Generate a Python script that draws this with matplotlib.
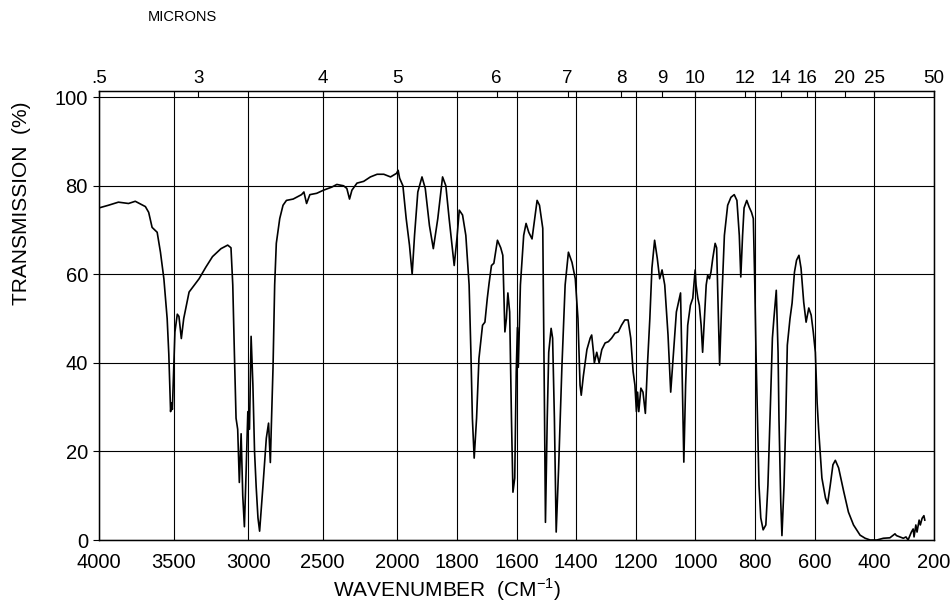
"""
    IR spectrum (transmission vs wavenumber), redrawn from a scanned chart
"""

import numpy as np
import matplotlib
matplotlib.use('Agg')
import matplotlib.pyplot as plt

plt.rcParams['font.family'] = ['Liberation Sans', 'DejaVu Sans']
plt.rcParams['mathtext.fontset'] = 'custom'
plt.rcParams['mathtext.rm'] = 'Liberation Sans'

#--- spectrum (cm-1, %T)
wavenumber = [
    4000, 3937, 3870, 3802, 3757, 3689, 3667, 3644, 3610, 3588, 3565, 3543, 3532, 3520, 3514, 3508,
    3500, 3491, 3475, 3464, 3448, 3432, 3396, 3329, 3284, 3239, 3182, 3137, 3115, 3103, 3092, 3081,
    3070, 3059, 3047, 3036, 3025, 3013, 3002, 2991, 2980, 2968, 2957, 2946, 2934, 2923, 2901, 2878,
    2863, 2851, 2845, 2833, 2822, 2811, 2788, 2766, 2743, 2698, 2642, 2626, 2608, 2586, 2540, 2495,
    2439, 2405, 2360, 2338, 2320, 2304, 2270, 2225, 2180, 2135, 2090, 2045, 2005, 1997, 1992, 1981,
    1970, 1959, 1950, 1942, 1931, 1917, 1906, 1892, 1879, 1864, 1848, 1837, 1826, 1809, 1800, 1792,
    1781, 1770, 1759, 1753, 1748, 1742, 1734, 1726, 1714, 1706, 1698, 1692, 1684, 1676, 1664, 1653,
    1646, 1639, 1634, 1629, 1623, 1617, 1612, 1606, 1601, 1597, 1594, 1587, 1576, 1568, 1559, 1548,
    1539, 1531, 1523, 1512, 1509, 1506, 1503, 1497, 1492, 1484, 1479, 1473, 1467, 1459, 1448, 1437,
    1426, 1414, 1403, 1394, 1387, 1383, 1376, 1364, 1353, 1348, 1342, 1339, 1331, 1323, 1314, 1303,
    1292, 1281, 1270, 1259, 1248, 1237, 1226, 1217, 1209, 1203, 1198, 1194, 1190, 1183, 1176, 1168,
    1161, 1153, 1146, 1137, 1128, 1120, 1112, 1103, 1092, 1083, 1076, 1064, 1050, 1046, 1039, 1033,
    1026, 1017, 1009, 1001, 998, 992, 987, 981, 976, 970, 964, 959, 953, 948, 942, 934,
    929, 923, 919, 912, 903, 892, 881, 870, 861, 853, 848, 842, 837, 828, 820, 812,
    806, 801, 797, 792, 787, 781, 773, 764, 757, 750, 742, 737, 729, 723, 720, 714,
    710, 703, 697, 692, 683, 676, 668, 661, 653, 646, 637, 629, 620, 612, 605, 598,
    592, 587, 576, 564, 557, 548, 539, 531, 520, 503, 487, 470, 448, 431, 414, 392,
    370, 348, 331, 326, 314, 303, 294, 287, 276, 270, 267, 261, 257, 250, 246, 240,
    234, 231,
]
transmission = [
    75.0, 75.6, 76.3, 76.0, 76.5, 75.3, 74.0, 70.6, 69.5, 65.0, 59.0, 50.0, 42.0, 29.0, 31.0, 29.5,
    38.0, 47.0, 51.0, 50.5, 45.5, 50.0, 56.0, 59.0, 61.6, 64.0, 65.8, 66.6, 66.0, 57.6, 42.0, 27.5,
    25.0, 13.0, 24.0, 10.0, 3.0, 16.0, 29.0, 25.0, 46.0, 35.0, 20.0, 12.0, 5.0, 2.0, 12.0, 23.0,
    26.4, 17.5, 25.0, 39.0, 57.6, 67.0, 72.6, 75.6, 76.7, 77.0, 78.0, 78.6, 76.0, 78.0, 78.3, 79.0,
    79.7, 80.3, 80.0, 79.4, 77.0, 79.0, 80.6, 81.0, 82.0, 82.6, 82.6, 82.0, 82.8, 83.5, 81.7, 80.0,
    72.6, 66.6, 60.0, 68.8, 78.6, 82.0, 79.4, 71.0, 65.8, 72.6, 82.0, 80.0, 72.6, 62.0, 68.0, 74.5,
    73.4, 68.8, 57.6, 42.4, 27.5, 18.5, 27.5, 41.0, 48.5, 49.2, 54.6, 58.0, 62.0, 62.5, 67.7, 66.0,
    64.3, 47.0, 50.0, 55.8, 51.5, 27.5, 10.8, 14.0, 38.0, 48.0, 39.0, 57.6, 68.8, 71.5, 69.5, 68.0,
    72.6, 76.7, 75.6, 70.4, 50.0, 27.5, 4.0, 27.5, 42.4, 47.8, 45.6, 27.5, 1.8, 16.0, 38.8, 57.6,
    65.0, 62.7, 59.0, 50.0, 35.0, 32.7, 37.0, 43.0, 45.6, 46.3, 42.4, 40.0, 42.4, 40.0, 43.0, 44.5,
    44.8, 45.6, 46.7, 47.0, 48.5, 49.7, 49.7, 45.6, 38.0, 35.0, 29.0, 33.4, 29.0, 34.3, 33.4, 28.6,
    39.5, 50.0, 61.4, 67.7, 63.6, 59.0, 61.0, 57.6, 46.3, 33.4, 40.0, 51.5, 55.8, 42.4, 17.6, 35.0,
    48.5, 53.0, 54.6, 61.0, 57.6, 54.6, 53.0, 48.5, 42.4, 50.0, 57.6, 59.8, 59.0, 60.5, 63.6, 67.0,
    66.0, 50.0, 39.5, 53.7, 68.8, 75.6, 77.4, 78.0, 76.7, 68.8, 59.4, 68.8, 75.0, 76.7, 75.2, 74.0,
    72.6, 57.6, 42.4, 27.5, 12.4, 5.0, 2.3, 3.4, 12.4, 27.5, 45.6, 50.0, 56.4, 42.4, 27.5, 8.6,
    1.0, 12.4, 27.5, 44.0, 50.0, 53.5, 60.5, 63.2, 64.3, 61.4, 53.7, 49.2, 52.4, 50.8, 47.0, 42.4,
    31.0, 25.0, 14.0, 9.5, 8.2, 12.4, 17.0, 18.0, 16.3, 11.0, 6.3, 3.4, 1.1, 0.4, 0.0, 0.0,
    0.4, 0.5, 1.4, 1.0, 0.7, 0.4, 0.7, 0.0, 1.8, 2.5, 0.7, 3.4, 1.8, 4.5, 3.4, 4.9,
    5.5, 4.5,
]

#--- axis ticks
wn_ticks = [4000, 3500, 3000, 2500, 2000, 1800, 1600, 1400, 1200, 1000, 800, 600, 400, 200]
t_ticks = [0, 20, 40, 60, 80, 100]
micron_labels = ['.5', '3', '4', '5', '6', '7', '8', '9', '10', '12', '14', '16', '20', '25', '50']
micron_values = [2.5, 3, 4, 5, 6, 7, 8, 9, 10, 12, 14, 16, 20, 25, 50]


#--- chart scale: below 2000 cm-1 the axis is stretched twice
def forward(x):
    x = np.asarray(x, dtype=float)
    return np.where(x >= 2000, x, 2 * x - 2000)


def inverse(u):
    u = np.asarray(u, dtype=float)
    return np.where(u >= 2000, u, (u + 2000) / 2)


fig = plt.figure(figsize=(9.53, 6.08), dpi=100)
ax = fig.add_axes([0.1039, 0.1118, 0.8762, 0.7385])

ax.set_xscale('function', functions=(forward, inverse))
ax.plot(wavenumber, transmission, color='black', lw=1.2)
ax.set_xlim(4000, 200)
ax.set_ylim(0, 101.4)

ax.set_xticks(wn_ticks)
ax.set_xticklabels([str(v) for v in wn_ticks])
ax.xaxis.set_minor_locator(matplotlib.ticker.NullLocator())
ax.set_yticks(t_ticks)
ax.tick_params(axis='x', length=0, pad=9, labelsize=14.5)
ax.tick_params(axis='y', length=4, width=0.8, pad=4, labelsize=14.5)
ax.grid(True, color='black', lw=0.8)
for s in ax.spines.values():
    s.set_linewidth(1.0)

#--- micron scale on top
ax2 = ax.twiny()
ax2.set_xscale('function', functions=(forward, inverse))
ax2.set_xlim(4000, 200)
ax2.set_xticks([1e4 / m for m in micron_values])
ax2.set_xticklabels(micron_labels)
ax2.xaxis.set_minor_locator(matplotlib.ticker.NullLocator())
ax2.tick_params(axis='x', direction='in', length=4, width=0.8, pad=3, labelsize=13.5)

fig.text(0.469, 0.018, 'WAVENUMBER  (CM$^{-1}$)', fontsize=15, ha='center', va='baseline')
fig.text(0.023, 0.666, 'TRANSMISSION  (%)', rotation=90, fontsize=15, ha='center', va='center')
fig.text(0.155, 0.972, 'MICRONS', fontsize=10.5, ha='left', va='center')

fig.savefig('out.png', dpi=100)
